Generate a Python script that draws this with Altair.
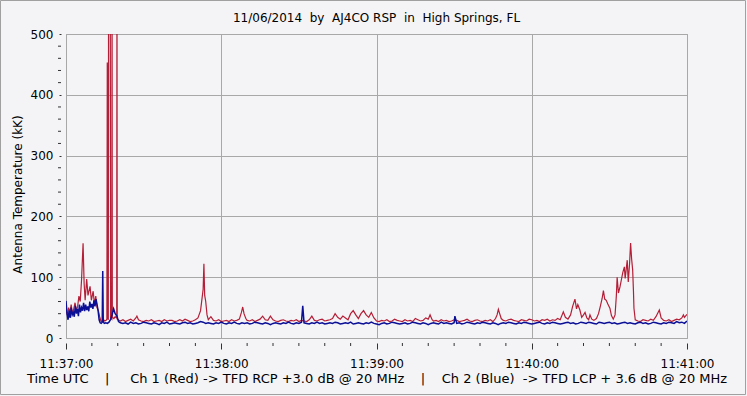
import altair as alt
import pandas as pd

# ---------------- data (seconds after 11:37:00, antenna temperature kK) -------------
red_time = [
    0, 0.5, 1, 1.5, 2, 2.5, 3, 3.5, 4, 4.5,
    5, 5.5, 6, 6.6, 7, 7.4, 8, 8.5, 9.3, 9.8,
    10.5, 11, 11.5, 12, 12.5, 13, 13.5, 14, 14.5, 15,
    15.5, 15.8, 15.95, 16.1, 16.35, 16.45, 17.1, 17.25, 17.7, 17.8,
    17.9, 18.5, 19, 19.6, 19.7, 19.8, 20.5, 21, 22, 23,
    24, 25, 26, 27, 27.4, 28, 29, 30, 31, 32,
    33, 34, 35, 36, 37, 38, 39, 40, 41, 42,
    43, 44, 45, 46, 47, 48, 49, 50, 51, 52,
    53, 53.3, 53.6, 54, 54.5, 55, 56, 57, 58, 59,
    60, 61, 62, 63, 64, 65, 66, 67, 67.8, 68.3,
    68.8, 69.5, 70, 71, 72, 73, 74, 75, 76, 77,
    78, 79, 80, 81, 82, 83, 84, 85, 86, 87,
    88, 89, 90, 91, 92, 93, 94, 95, 96, 97,
    98, 99, 100, 101, 102, 103, 104, 105, 106, 107,
    108, 109, 110, 111, 112, 113, 114, 115, 116, 117,
    118, 119, 120, 121, 122, 123, 124, 125, 126, 127,
    128, 129, 130, 131, 132, 133, 134, 135, 136, 137,
    138, 139, 140, 140.7, 141.5, 142, 143, 144, 145, 146,
    147, 148, 149, 150, 151, 152, 153, 154, 155, 156,
    157, 158, 159, 160, 161, 162, 163, 164, 165, 166,
    166.6, 167.1, 167.6, 168.2, 169, 170, 171, 172, 173, 174,
    175, 176, 177, 178, 179, 180, 181, 182, 183, 184,
    185, 186, 187, 188, 189, 190, 191, 192.2, 193, 194,
    195, 195.8, 196.7, 197.3, 197.8, 198.6, 199.3, 200, 200.6, 201.3,
    202, 202.5, 203.2, 204, 205, 205.8, 206.5, 207.2, 207.7, 208.2,
    208.8, 209.4, 210.2, 210.8, 211.5, 212.2, 212.7, 213, 213.5, 214.1,
    214.6, 215.2, 215.8, 216.1, 216.4, 216.9, 217.3, 217.8, 218.2, 218.6,
    219, 219.3, 219.5, 220, 221, 222, 223, 224, 225, 226,
    227, 228, 229.3, 230, 231, 232, 233, 234, 235, 236,
    237, 238, 238.6, 239, 240,
]
red_value = [
    45, 38, 50, 42, 55, 40, 48, 58, 45, 52,
    69, 60, 95, 156, 90, 62, 97, 70, 85, 62,
    77, 55, 69, 50, 45, 35, 28, 27, 30, 28,
    29, 31, 453, 32, 30, 600, 600, 33, 31, 600,
    34, 32, 35, 33, 600, 31, 29, 28, 30, 27,
    29, 31, 28, 33, 36, 30, 28, 27, 29, 28,
    30, 27, 28, 29, 27, 30, 28, 29, 29, 27,
    28, 30, 28, 31, 29, 27, 28, 30, 33, 45,
    80, 122, 70, 60, 38, 30, 35, 29, 28, 30,
    27, 28, 29, 27, 30, 28, 29, 31, 42, 51,
    40, 32, 29, 28, 30, 27, 29, 31, 36, 30,
    29, 36, 30, 28, 27, 29, 30, 28, 27, 29,
    28, 30, 27, 29, 28, 27, 30, 36, 29, 28,
    30, 31, 28, 29, 30, 32, 40, 34, 31, 36,
    33, 30, 40, 45, 38, 32, 40, 45, 38, 34,
    42, 33, 28, 27, 29, 28, 30, 27, 28, 31,
    29, 28, 27, 30, 28, 29, 27, 32, 30, 28,
    29, 33, 31, 38, 30, 28, 29, 27, 30, 28,
    29, 27, 28, 30, 29, 27, 28, 29, 31, 28,
    27, 29, 30, 28, 27, 29, 28, 30, 27, 32,
    38, 47, 40, 32, 29, 28, 30, 31, 29, 28,
    27, 30, 29, 28, 31, 30, 28, 29, 27, 30,
    29, 31, 28, 30, 29, 32, 30, 43, 34, 31,
    38, 52, 64, 48, 55, 46, 34, 38, 42, 33,
    30, 38, 31, 29, 32, 40, 52, 65, 78, 64,
    62, 56, 49, 37, 31, 38, 70, 100, 74, 84,
    95, 108, 117, 98, 109, 128, 92, 122, 156, 130,
    112, 78, 49, 30, 28, 27, 30, 29, 28, 31,
    29, 35, 46, 33, 29, 28, 30, 27, 29, 31,
    30, 33, 38, 34, 39,
]

blue_time = [
    0, 0.4, 0.8, 1.2, 1.6, 2, 2.4, 2.8, 3.2, 3.6,
    4, 4.4, 4.8, 5.2, 5.6, 6, 6.4, 6.8, 7.2, 7.6,
    8, 8.4, 8.8, 9.2, 9.6, 10, 10.4, 10.8, 11.2, 11.6,
    12, 12.4, 12.8, 13.2, 13.6, 14, 14.2, 14.4, 14.8, 15.4,
    16, 16.6, 17.2, 17.8, 18.4, 19, 19.7, 20.3, 21, 22,
    23, 24, 25, 26, 27, 28, 29, 30, 31, 32,
    33, 34, 35, 36, 37, 38, 39, 40, 41, 42,
    43, 44, 45, 46, 47, 48, 49, 50, 51, 52,
    53, 54, 55, 56, 57, 58, 59, 60, 61, 62,
    63, 64, 65, 66, 67, 68, 69, 70, 71, 72,
    73, 74, 75, 76, 77, 78, 79, 80, 81, 82,
    83, 84, 85, 86, 87, 88, 89, 90, 91, 91.5,
    92, 93, 94, 95, 96, 97, 98, 99, 100, 101,
    102, 103, 104, 105, 106, 107, 108, 109, 110, 111,
    112, 113, 114, 115, 116, 117, 118, 119, 120, 121,
    122, 123, 124, 125, 126, 127, 128, 129, 130, 131,
    132, 133, 134, 135, 136, 137, 138, 139, 140, 141,
    142, 143, 144, 145, 146, 147, 148, 149, 150, 150.3,
    151, 152, 153, 154, 155, 156, 157, 158, 159, 160,
    161, 162, 163, 164, 165, 166, 167, 168, 169, 170,
    171, 172, 173, 174, 175, 176, 177, 178, 179, 180,
    181, 182, 183, 184, 185, 186, 187, 188, 189, 190,
    191, 192, 193, 194, 195, 196, 197, 198, 199, 200,
    201, 202, 203, 204, 205, 206, 207, 208, 209, 210,
    211, 212, 213, 214, 215, 216, 217, 218, 219, 220,
    221, 222, 223, 224, 225, 226, 227, 228, 229, 230,
    231, 232, 233, 234, 235, 236, 237, 238, 239, 240,
]
blue_value = [
    61, 40, 30, 45, 33, 50, 38, 42, 35, 53,
    40, 48, 36, 55, 42, 50, 45, 58, 44, 55,
    46, 52, 44, 60, 50, 56, 48, 62, 52, 64,
    55, 45, 30, 25, 24, 26, 110, 27, 24, 25,
    24, 26, 30, 38, 48, 40, 36, 27, 25, 24,
    25, 23, 26, 24, 25, 23, 24, 26, 25, 24,
    23, 25, 24, 22, 25, 24, 26, 23, 24, 25,
    24, 23, 25, 26, 24, 25, 23, 24, 25, 27,
    26, 24, 25, 24, 23, 25, 24, 26, 24, 23,
    25, 24, 26, 24, 23, 25, 24, 25, 23, 24,
    26, 25, 24, 23, 25, 24, 22, 24, 25, 24,
    23, 25, 24, 26, 24, 23, 25, 24, 26, 53,
    25, 24, 23, 25, 24, 26, 24, 25, 23, 24,
    25, 24, 26, 25, 23, 24, 25, 24, 26, 23,
    24, 25, 24, 23, 25, 24, 26, 24, 23, 22,
    24, 25, 23, 24, 26, 25, 24, 23, 24, 25,
    23, 24, 26, 25, 24, 23, 25, 24, 22, 24,
    25, 24, 23, 26, 24, 25, 24, 23, 25, 36,
    24, 25, 23, 24, 26, 25, 24, 23, 25, 24,
    26, 25, 24, 23, 25, 24, 22, 24, 25, 24,
    26, 25, 24, 23, 25, 24, 26, 25, 24, 23,
    24, 25, 26, 24, 23, 25, 24, 26, 25, 24,
    23, 24, 25, 26, 24, 25, 23, 24, 26, 25,
    24, 26, 25, 24, 23, 26, 25, 24, 25, 26,
    24, 25, 23, 24, 25, 26, 24, 25, 24, 23,
    25, 26, 24, 25, 23, 24, 26, 25, 24, 23,
    25, 24, 26, 25, 24, 27, 25, 26, 24, 28,
]

major_x = [0, 60, 120, 180, 240]
major_x_labels = ["11:37:00", "11:38:00", "11:39:00", "11:40:00", "11:41:00"]
minor_x = [10, 20, 30, 40, 50, 70, 80, 90, 100, 110, 130, 140, 150, 160, 170,
           190, 200, 210, 220, 230]
major_y = [0, 100, 200, 300, 400, 500]
minor_y = [20, 40, 60, 80, 120, 140, 160, 180, 220, 240, 260, 280,
           320, 340, 360, 380, 420, 440, 460, 480]

NB = "\u00a0"
title_text = "11/06/2014" + NB * 2 + "by" + NB * 2 + "AJ4CO RSP" + NB * 2 + "in" + NB * 2 + "High Springs, FL"
x_title = ("Time UTC" + NB * 4 + "|" + NB * 5 + "Ch 1 (Red) -> TFD RCP +3.0 dB @ 20 MHz"
           + NB * 4 + "|" + NB * 4 + "Ch 2 (Blue)" + NB * 2 + "-> TFD LCP + 3.6 dB @ 20 MHz")
y_title = "Antenna Temperature (kK)"

# ---------------- chart -------------
W, H = 621, 304
FONT = "DejaVu Sans"
RED = "#b41e36"
BLUE = "#0a0f96"
GRID = "#a8a8a8"
TICK = "#333333"

red_df = pd.DataFrame({"t": red_time, "v": red_value})
blue_df = pd.DataFrame({"t": blue_time, "v": blue_value})

xscale = alt.Scale(domain=[0, 240], nice=False, zero=False)
yscale = alt.Scale(domain=[0, 500], nice=False)

label_expr = "[" + ",".join("'%s'" % s for s in major_x_labels) + "][round(datum.value/60)]"

xaxis = alt.Axis(values=major_x, labelExpr=label_expr, grid=True, gridColor=GRID,
                 domain=False, tickSize=6, offset=5, tickColor=TICK, labelPadding=9,
                 labelFont=FONT, labelFontSize=12, labelColor="#000000",
                 labelFlush=False, labelOverlap=False, labelBound=False,
                 title=x_title, titleFont=FONT, titleFontSize=13, titleFontWeight="normal",
                 titleColor="#000000", titleX=310.5, titleY=35, titleAlign="center",
                 titleBaseline="middle", titleAnchor="middle")
yaxis = alt.Axis(values=major_y, grid=True, gridColor=GRID, domain=False,
                 tickSize=2, offset=5, tickColor=TICK, labelPadding=6,
                 labelFont=FONT, labelFontSize=12, labelColor="#000000",
                 labelFlush=False, labelOverlap=False, labelBound=False,
                 title=y_title, titleFont=FONT, titleFontSize=12, titleFontWeight="normal",
                 titleColor="#000000", titleAngle=270, titleX=-44, titleY=160,
                 titleAlign="center", titleBaseline="middle")

red_line = alt.Chart(red_df).mark_line(color=RED, strokeWidth=1.2, clip=True).encode(
    x=alt.X("t:Q", scale=xscale, axis=xaxis),
    y=alt.Y("v:Q", scale=yscale, axis=yaxis),
)
blue_line = alt.Chart(blue_df).mark_line(color=BLUE, strokeWidth=1.5, clip=True).encode(
    x=alt.X("t:Q", scale=xscale),
    y=alt.Y("v:Q", scale=yscale),
)
minor_x_ticks = alt.Chart(pd.DataFrame({"t": minor_x})).mark_rule(color=TICK, strokeWidth=1).encode(
    x=alt.X("t:Q", scale=xscale),
    y=alt.value(H + 5), y2=alt.value(H + 8),
)
minor_y_ticks = alt.Chart(pd.DataFrame({"v": minor_y})).mark_rule(color=TICK, strokeWidth=1).encode(
    y=alt.Y("v:Q", scale=yscale),
    x=alt.value(-8), x2=alt.value(-5),
)
frame = alt.Chart(pd.DataFrame({"a": [0]})).mark_rect(filled=False, stroke="#a0a0a0", strokeWidth=1).encode(
    x=alt.value(-65.5), x2=alt.value(W + 58.5), y=alt.value(-33.5), y2=alt.value(H + 56.5),
)

chart = alt.layer(red_line, blue_line, minor_x_ticks, minor_y_ticks, frame).properties(
    width=W, height=H,
    title=alt.TitleParams(title_text, font=FONT, fontSize=12, fontWeight="normal",
                          color="#000000", anchor="middle", frame="group",
                          baseline="middle", offset=-29.5),
    autosize=alt.AutoSizeParams(type="none"),
    padding={"left": 66, "top": 34, "right": 60, "bottom": 58},
).configure(background="#f4f4f7").configure_view(stroke="#a0a0a0", strokeWidth=1)

chart.save("out.html", embed_options={"renderer": "svg", "actions": False})
